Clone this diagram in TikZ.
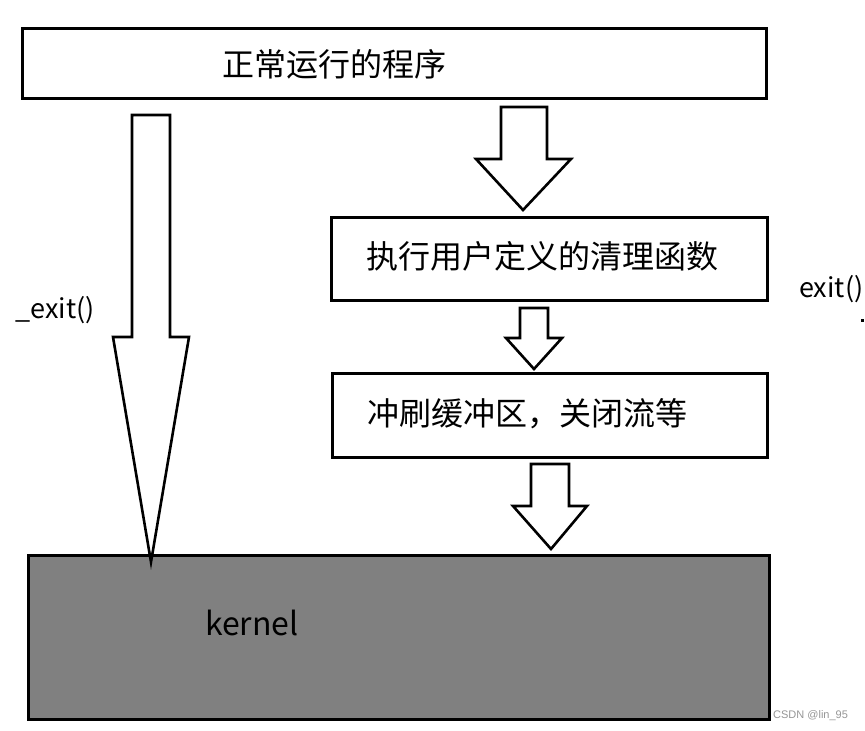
\documentclass[tikz,border=0pt]{standalone}
\usepackage{fontspec}
\setmainfont{Noto Sans CJK SC}
\newfontfamily\wmfont{Liberation Sans}
\begin{document}
\begin{tikzpicture}[x=1pt,y=-1pt,
  box/.style={draw=black,line width=3pt,fill=white,inner sep=0pt},
  blockarrow/.style={draw=black,line width=2.6pt,fill=white,line join=miter},
  bigtext/.style={font=\fontsize{32}{38}\selectfont,inner sep=0pt,anchor=west},
  lbl/.style={font=\fontsize{27}{32}\selectfont,inner sep=0pt}]
\useasboundingbox[fill=white] (0,0) rectangle (865,731);
% boxes
\node[box,minimum width=744pt,minimum height=70pt] (top) at (394,63) {};
\node[box,minimum width=436pt,minimum height=83pt] (clean) at (549,258.5) {};
\node[box,minimum width=435pt,minimum height=84pt] (flush) at (549.5,415) {};
\node[box,fill={rgb,255:red,128;green,128;blue,128},minimum width=741pt,minimum height=164pt] (kernel) at (398.5,637) {};
% texts
\node[bigtext] (ttop) at (222,64) {正常运行的程序};
\node[bigtext] (tclean) at (366,256) {执行用户定义的清理函数};
\node[bigtext] (tflush) at (367,414) {冲刷缓冲区，关闭流等};
\node[bigtext] (tkernel) at (205,623) {kernel};
% block arrows
\draw[blockarrow] (132,115) -- (170,115) -- (170,337) -- (189,337) -- (151,562) -- (113,337) -- (132,337) -- cycle;
\draw[blockarrow] (501,107) -- (547,107) -- (547,159) -- (571,159) -- (523,210) -- (476,159) -- (501,159) -- cycle;
\draw[blockarrow] (520,308) -- (548,308) -- (548,338) -- (562,338) -- (534,369) -- (506,338) -- (520,338) -- cycle;
\draw[blockarrow] (531,464) -- (569,464) -- (569,506) -- (587,506) -- (551,549) -- (513,506) -- (531,506) -- cycle;
% labels
\node[lbl] (lexit) at (55,310) {\_exit()};
\node[lbl,anchor=west] (rexit) at (799,289) {exit()};
\fill[black] (860.5,318.5) rectangle (863.5,321.5);
\node[font=\wmfont\fontsize{11}{13}\selectfont,text={rgb,255:red,150;green,150;blue,150},anchor=west,inner sep=0pt] (wm) at (773,716) {CSDN @lin\_95};
\end{tikzpicture}
\end{document}
